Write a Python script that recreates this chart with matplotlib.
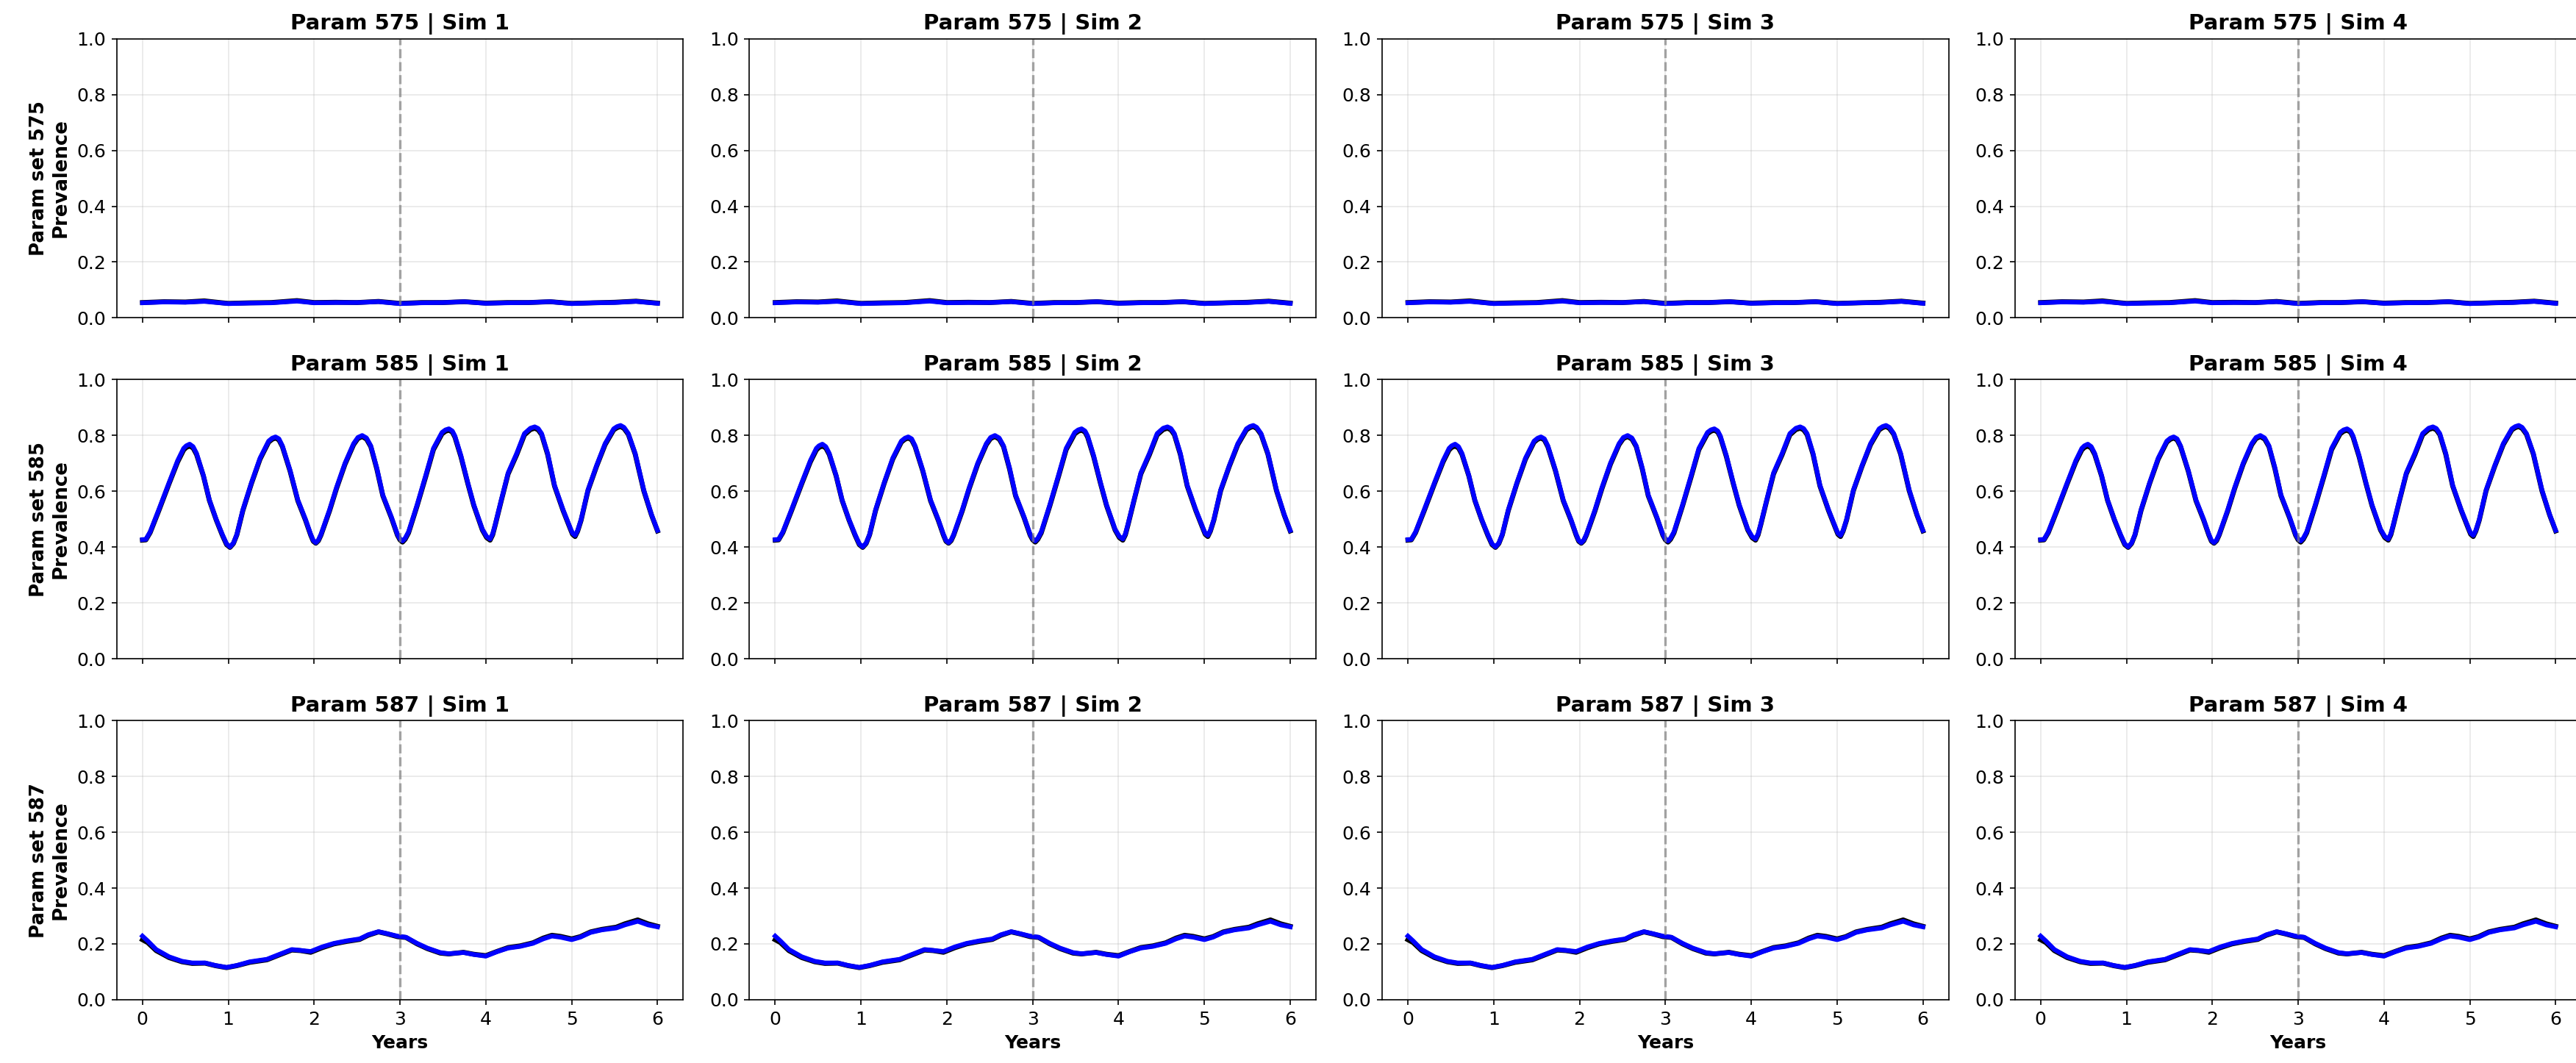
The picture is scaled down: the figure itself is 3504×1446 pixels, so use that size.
import matplotlib
matplotlib.use("Agg")
import matplotlib.pyplot as plt

# ---------------- data ----------------
param_sets = [575, 585, 587]
sims = [1, 2, 3, 4]
intervention_year = 3
y_ticks = [0.0, 0.2, 0.4, 0.6, 0.8, 1.0]
x_ticks = [0, 1, 2, 3, 4, 5, 6]

years_575 = [0.00, 0.25, 0.50, 0.72, 0.90, 1.00, 1.25, 1.50, 1.80, 2.00, 2.25, 2.50, 2.75,
             3.00, 3.25, 3.50, 3.75, 4.00, 4.25, 4.50, 4.75, 5.00, 5.25, 5.50, 5.75, 6.00]
obs_575 = [0.055, 0.058, 0.057, 0.061, 0.055, 0.052, 0.054, 0.055, 0.062, 0.055, 0.056, 0.055, 0.059,
           0.052, 0.055, 0.055, 0.058, 0.053, 0.055, 0.055, 0.058, 0.052, 0.054, 0.056, 0.060, 0.053]
sim_575 = [0.054, 0.057, 0.056, 0.059, 0.054, 0.051, 0.053, 0.054, 0.060, 0.054, 0.055, 0.055, 0.058,
           0.051, 0.054, 0.055, 0.058, 0.052, 0.054, 0.055, 0.058, 0.051, 0.054, 0.055, 0.059, 0.052]

years_585 = [0.00, 0.04, 0.09, 0.19, 0.31, 0.41, 0.48, 0.51, 0.55, 0.59, 0.63, 0.71, 0.78, 0.86, 0.93, 0.98,
             1.02, 1.06, 1.10, 1.17, 1.27, 1.37, 1.47, 1.51, 1.55, 1.59, 1.63, 1.72, 1.81, 1.90, 1.96, 1.99,
             2.02, 2.05, 2.08, 2.18, 2.26, 2.36, 2.46, 2.51, 2.56, 2.61, 2.66, 2.73, 2.80, 2.90, 2.97, 3.00,
             3.03, 3.06, 3.10, 3.20, 3.30, 3.39, 3.49, 3.53, 3.57, 3.61, 3.64, 3.71, 3.79, 3.86, 3.96, 4.01,
             4.05, 4.08, 4.11, 4.18, 4.26, 4.36, 4.45, 4.52, 4.57, 4.61, 4.65, 4.72, 4.80, 4.90, 4.99, 5.01,
             5.04, 5.07, 5.11, 5.19, 5.29, 5.39, 5.49, 5.53, 5.57, 5.61, 5.66, 5.74, 5.84, 5.93, 6.00]
obs_585 = [0.425, 0.426, 0.452, 0.530, 0.627, 0.705, 0.748, 0.757, 0.762, 0.755, 0.732, 0.655, 0.567, 0.497, 0.443, 0.409,
           0.399, 0.413, 0.444, 0.531, 0.628, 0.715, 0.776, 0.786, 0.791, 0.784, 0.760, 0.672, 0.566, 0.496, 0.443, 0.421,
           0.414, 0.423, 0.443, 0.530, 0.609, 0.697, 0.767, 0.789, 0.796, 0.787, 0.760, 0.680, 0.584, 0.505, 0.443, 0.426,
           0.418, 0.428, 0.451, 0.548, 0.652, 0.749, 0.806, 0.815, 0.819, 0.812, 0.794, 0.724, 0.628, 0.549, 0.461, 0.434,
           0.425, 0.444, 0.479, 0.566, 0.662, 0.731, 0.802, 0.821, 0.826, 0.820, 0.803, 0.732, 0.619, 0.531, 0.461, 0.446,
           0.438, 0.457, 0.496, 0.602, 0.689, 0.767, 0.820, 0.828, 0.832, 0.825, 0.804, 0.733, 0.602, 0.515, 0.458]
sim_585 = [0.427, 0.428, 0.455, 0.534, 0.631, 0.710, 0.754, 0.763, 0.769, 0.760, 0.736, 0.657, 0.569, 0.499, 0.446, 0.412,
           0.401, 0.415, 0.446, 0.534, 0.631, 0.719, 0.780, 0.790, 0.795, 0.788, 0.763, 0.675, 0.569, 0.499, 0.446, 0.424,
           0.416, 0.426, 0.446, 0.534, 0.613, 0.701, 0.771, 0.793, 0.800, 0.791, 0.763, 0.684, 0.587, 0.508, 0.446, 0.430,
           0.422, 0.432, 0.455, 0.552, 0.657, 0.754, 0.811, 0.820, 0.824, 0.816, 0.798, 0.728, 0.631, 0.552, 0.464, 0.438,
           0.429, 0.448, 0.482, 0.569, 0.666, 0.736, 0.807, 0.826, 0.831, 0.825, 0.807, 0.736, 0.622, 0.534, 0.464, 0.450,
           0.442, 0.460, 0.499, 0.605, 0.692, 0.771, 0.824, 0.832, 0.836, 0.829, 0.807, 0.736, 0.605, 0.517, 0.460]

years_587 = [0.00, 0.06, 0.16, 0.31, 0.46, 0.58, 0.73, 0.85, 0.98, 1.10,
             1.25, 1.45, 1.59, 1.74, 1.84, 1.96, 2.09, 2.23, 2.38, 2.53,
             2.63, 2.75, 2.85, 2.97, 3.07, 3.20, 3.32, 3.47, 3.57, 3.74,
             3.86, 4.00, 4.13, 4.26, 4.40, 4.55, 4.67, 4.77, 4.87, 5.00,
             5.10, 5.22, 5.35, 5.52, 5.62, 5.77, 5.89, 6.00]
obs_587 = [0.215, 0.205, 0.176, 0.151, 0.136, 0.130, 0.131, 0.122, 0.115, 0.122,
           0.134, 0.143, 0.160, 0.178, 0.176, 0.170, 0.186, 0.200, 0.209, 0.216,
           0.231, 0.243, 0.236, 0.226, 0.223, 0.200, 0.183, 0.167, 0.164, 0.170,
           0.163, 0.158, 0.173, 0.187, 0.193, 0.204, 0.221, 0.231, 0.227, 0.218,
           0.226, 0.243, 0.252, 0.260, 0.272, 0.286, 0.272, 0.263]
sim_587 = [0.228, 0.211, 0.180, 0.154, 0.138, 0.132, 0.132, 0.123, 0.116, 0.123,
           0.136, 0.145, 0.162, 0.180, 0.177, 0.173, 0.189, 0.202, 0.211, 0.218,
           0.233, 0.244, 0.237, 0.228, 0.224, 0.202, 0.185, 0.169, 0.165, 0.169,
           0.162, 0.156, 0.172, 0.185, 0.191, 0.202, 0.218, 0.228, 0.224, 0.215,
           0.224, 0.241, 0.250, 0.257, 0.268, 0.281, 0.268, 0.261]

rows = {
    575: (years_575, obs_575, sim_575),
    585: (years_585, obs_585, sim_585),
    587: (years_587, obs_587, sim_587),
}

# ---------------- figure ----------------
plt.rcParams['font.family'] = ['DejaVu Sans']
fig, axes = plt.subplots(3, 4, figsize=(23.36, 9.64), dpi=150, sharex=True)
fig.subplots_adjust(left=0.0453, right=1.0021, bottom=0.0595, top=0.9636,
                    wspace=0.1168, hspace=0.221)

for r, p in enumerate(param_sets):
    yrs, obs, sim = rows[p]
    for c, s in enumerate(sims):
        ax = axes[r, c]
        ax.plot(yrs, obs, color='black', lw=3.2, solid_joinstyle='round')
        ax.plot(yrs, sim, color='blue', lw=3.0, solid_joinstyle='round')
        ax.axvline(intervention_year, color='gray', linestyle='--', lw=1.6, alpha=0.7)
        ax.set_ylim(0, 1)
        ax.set_yticks(y_ticks)
        ax.set_xticks(x_ticks)
        ax.grid(True, alpha=0.3)
        ax.tick_params(labelsize=12)
        ax.set_title(f"Param {p} | Sim {s}", fontsize=14, fontweight='bold')
        if c == 0:
            ax.set_ylabel(f"Param set {p}\nPrevalence", fontsize=12.5, fontweight='bold')
        if r == 2:
            ax.set_xlabel("Years", fontsize=12, fontweight='bold')

fig.savefig("out.png", dpi=150)
